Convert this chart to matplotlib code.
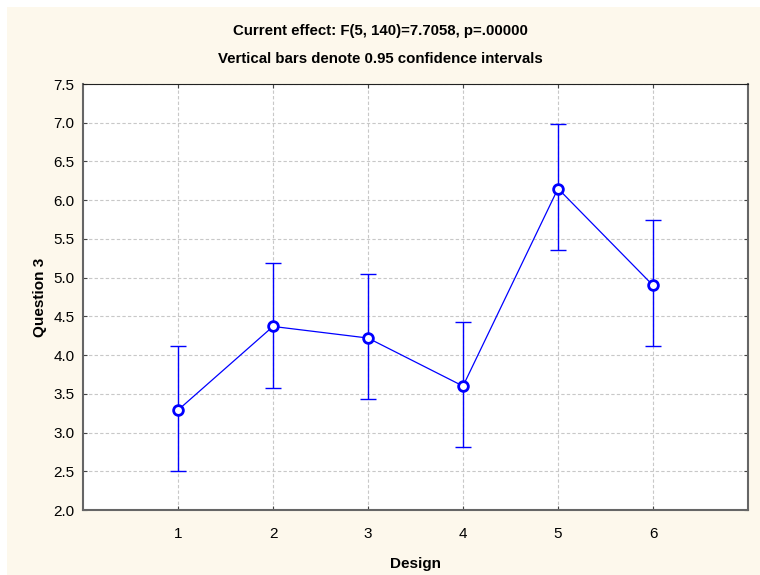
import numpy as np
import matplotlib
matplotlib.use("Agg")
import matplotlib.pyplot as plt
from matplotlib.patches import Rectangle

plt.rcParams['font.family'] = ['Liberation Sans', 'DejaVu Sans']

# Datos
design = [1, 2, 3, 4, 5, 6]
means = [3.29, 4.37, 4.22, 3.60, 6.15, 4.90]
ci_low = [2.50, 3.57, 3.43, 2.81, 5.36, 4.12]
ci_high = [4.12, 5.19, 5.05, 4.43, 6.99, 5.74]
yticks = [2.0, 2.5, 3.0, 3.5, 4.0, 4.5, 5.0, 5.5, 6.0, 6.5, 7.0, 7.5]

means_a = np.array(means)
err = [means_a - np.array(ci_low), np.array(ci_high) - means_a]

fig = plt.figure(figsize=(7.6, 5.75), dpi=100)
fig.patch.set_facecolor('white')
# fondo crema con margen blanco arriba/izquierda
fig.patches.append(Rectangle((7 / 760, 0), 1, 1 - 7 / 575, transform=fig.transFigure,
                             facecolor='#fdf8ec', edgecolor='none', zorder=-10))

ax = fig.add_axes([83 / 760, 65 / 575, 665 / 760, 426 / 575])
ax.set_facecolor('white')

ax.errorbar(design, means, yerr=err, fmt='none', ecolor='blue', elinewidth=1,
            capsize=6, capthick=1, zorder=3)
ax.plot(design, means, color='blue', lw=0.9, marker='o', markersize=7,
        markerfacecolor='white', markeredgecolor='blue', markeredgewidth=2, zorder=4)

ax.set_xlim(0, 7)
ax.set_ylim(2.0, 7.5)
ax.set_xticks(design)
ax.set_yticks(yticks)
ax.set_yticklabels([f"{v:.1f}" for v in yticks])
ax.grid(True, color='#c8c8c8', linestyle=(0, (3, 2)), lw=0.8)
ax.set_axisbelow(True)

ax.tick_params(axis='both', labelsize=11, length=3, width=0.8, color='#444444')
ax.tick_params(axis='x', direction='in', top=True, pad=12)
ax.tick_params(axis='y', direction='in', right=True, pad=6)
for side in ['left', 'bottom']:
    ax.spines[side].set_color('#666666')
    ax.spines[side].set_linewidth(1.5)
ax.spines['top'].set_color('#222222')
ax.spines['right'].set_color('#666666')
ax.spines['right'].set_linewidth(1.5)

ax.set_xlabel('Design', fontsize=11, fontweight='bold', labelpad=12)
ax.set_ylabel('Question 3', fontsize=11, fontweight='bold', labelpad=5)

fig.text(0.5, 1 - 31 / 575, 'Current effect: F(5, 140)=7.7058, p=.00000', ha='center',
         va='center', fontsize=10.8, fontweight='bold')
fig.text(0.5, 1 - 59 / 575, 'Vertical bars denote 0.95 confidence intervals', ha='center',
         va='center', fontsize=10.8, fontweight='bold')

fig.savefig('out.png', dpi=100, facecolor=fig.get_facecolor())
